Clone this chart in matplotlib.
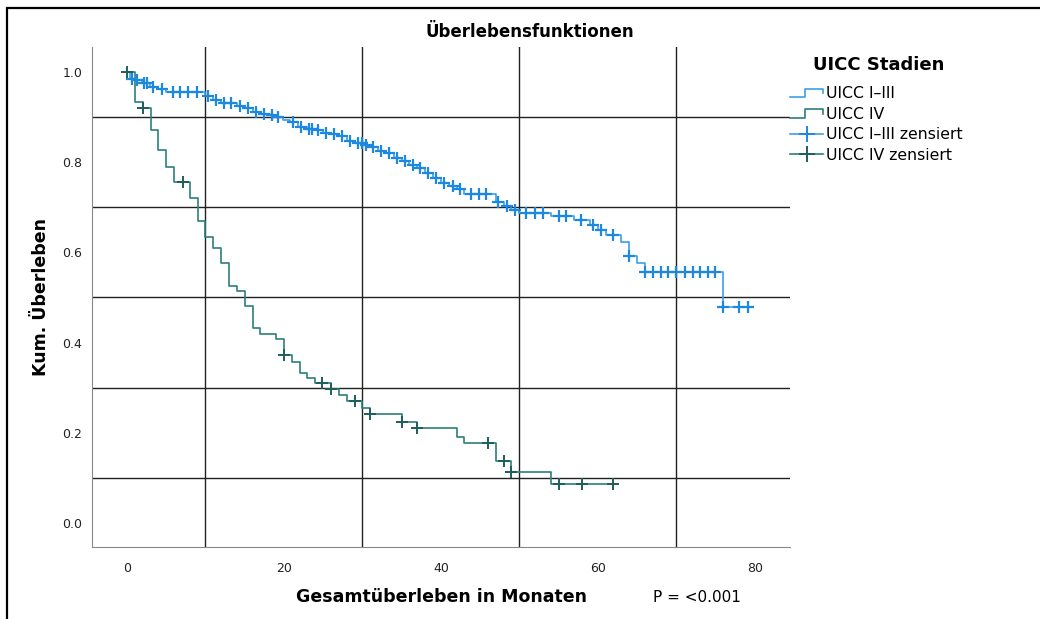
import numpy as np
import matplotlib.pyplot as plt
from matplotlib.lines import Line2D
from matplotlib.patches import Rectangle
from matplotlib.legend_handler import HandlerBase

# UICC I-III: event times (months) and survival after each step
t13 = [0, 0.4, 1.0, 1.9, 2.9, 4.0, 5.0, 9.9, 11.0, 12.0, 14.0, 15.0, 16.0, 17.0,
       18.2, 18.9, 19.9, 20.8, 21.8, 22.9, 24.0, 25.0, 26.0, 27.0, 28.0, 29.0, 30.0, 31.0,
       32.0, 33.0, 34.0, 35.0, 36.0, 37.0, 38.0, 39.0, 40.0, 41.0, 42.0, 43.0, 47.0, 48.0,
       49.0, 50.0, 54.0, 57.0, 59.0, 60.0, 61.0, 63.0, 64.0, 65.0, 66.0, 76.0]
s13 = [1.0, 0.984, 0.981, 0.975, 0.967, 0.962, 0.955, 0.947, 0.938, 0.931, 0.925, 0.919, 0.912, 0.907,
       0.904, 0.899, 0.894, 0.889, 0.877, 0.873, 0.870, 0.864, 0.862, 0.857, 0.846, 0.843, 0.838, 0.833,
       0.824, 0.820, 0.809, 0.803, 0.794, 0.786, 0.775, 0.764, 0.753, 0.747, 0.740, 0.729, 0.712, 0.703,
       0.694, 0.687, 0.681, 0.672, 0.661, 0.650, 0.639, 0.622, 0.592, 0.576, 0.557, 0.478]
c13 = [0.6, 1.3, 2.2, 2.6, 3.3, 4.4, 5.9, 6.8, 7.8, 8.9, 10.3, 11.4, 12.4, 13.3, 14.4, 15.4,
       16.4, 17.4, 18.5, 19.3, 21.2, 22.2, 23.2, 23.6, 24.4, 25.4, 26.4, 27.4, 28.4, 29.4, 29.9,
       30.4, 31.4, 32.4, 33.4, 34.4, 35.4, 36.4, 37.4, 38.4, 39.4, 40.4, 41.5, 42.4, 43.8, 44.8,
       45.8, 47.3, 48.4, 49.5, 50.9, 52.0, 53.0, 55.1, 56.0, 57.9, 59.4, 60.4, 62.0, 64.0,
       66.0, 67.0, 68.0, 69.0, 70.0, 71.1, 72.1, 73.0, 74.0, 75.0, 76.0, 78.0, 79.1]
end13 = 79.1

# UICC IV
t4 = [0, 1.0, 2.0, 3.0, 4.0, 5.0, 6.0, 8.0, 9.0, 10.0, 11.0, 12.0, 13.0, 14.0,
      15.0, 16.0, 17.0, 19.0, 20.0, 21.0, 22.0, 23.0, 24.0, 26.0, 27.0, 28.0, 30.0, 31.0,
      35.0, 37.0, 42.0, 43.0, 47.0, 49.0, 54.0]
s4 = [1.0, 0.933, 0.919, 0.871, 0.827, 0.790, 0.755, 0.720, 0.670, 0.634, 0.609, 0.576, 0.526, 0.515,
      0.480, 0.432, 0.419, 0.407, 0.372, 0.358, 0.333, 0.321, 0.310, 0.297, 0.284, 0.270, 0.256, 0.241,
      0.225, 0.210, 0.191, 0.177, 0.138, 0.114, 0.086]
c4 = [0, 2.1, 7.1, 20.0, 24.9, 26.0, 29.0, 31.0, 35.0, 37.0, 46.0, 48.0, 49.0, 55.0, 58.0, 62.0]
end4 = 62.0

col13_line = '#3d9fe6'
col13_mark = '#1c88e0'
col4_line = '#2e7f7c'
col4_mark = '#1e5e5c'


def censor_y(t, s, c):
    idx = np.searchsorted(t, c, side='right') - 1
    return np.array(s)[idx]


class StepHandler(HandlerBase):
    def create_artists(self, legend, orig_handle, xdescent, ydescent, width, height, fontsize, trans):
        x0 = -xdescent
        y0 = -ydescent
        xs = [x0, x0 + 0.45 * width, x0 + 0.45 * width, x0 + width, x0 + width]
        ys = [y0 + 0.1 * height, y0 + 0.1 * height, y0 + 0.85 * height, y0 + 0.85 * height, y0 + 0.45 * height]
        line = Line2D(xs, ys, color=orig_handle.get_color(), lw=orig_handle.get_linewidth())
        line.set_transform(trans)
        return [line]


fig = plt.figure(figsize=(10.4, 6.19), dpi=100)
ax = fig.add_axes([92 / 1040, 1 - 547 / 619, (790 - 92) / 1040, (547 - 47) / 619])

l13, = ax.step(list(t13) + [end13], list(s13) + [s13[-1]], where='post', color=col13_line, lw=1.2)
l4, = ax.step(list(t4) + [end4], list(s4) + [s4[-1]], where='post', color=col4_line, lw=1.2)
ax.plot(c13, censor_y(t13, s13, c13), ls='none', marker='+', ms=8.5, mew=1.6, color=col13_mark)
ax.plot(c4, censor_y(t4, s4, c4), ls='none', marker='+', ms=8.5, mew=1.4, color=col4_mark)

ax.set_xlim(-4.46, 84.5)
ax.set_ylim(-0.053, 1.055)
ax.set_xticks([0, 20, 40, 60, 80])
ax.set_yticks([0.0, 0.2, 0.4, 0.6, 0.8, 1.0])
ax.set_yticklabels(['0.0', '0.2', '0.4', '0.6', '0.8', '1.0'])
ax.set_xticks([10, 30, 50, 70], minor=True)
ax.set_yticks([0.1, 0.3, 0.5, 0.7, 0.9], minor=True)
ax.grid(which='minor', color='#222222', lw=1.0)
ax.set_axisbelow(True)
ax.tick_params(which='both', length=0, labelsize=9, colors='#222222')
ax.tick_params(axis='x', pad=11)
ax.tick_params(axis='y', pad=7)
for side in ['top', 'right']:
    ax.spines[side].set_visible(False)
for side in ['left', 'bottom']:
    ax.spines[side].set_color('#888888')

ax.set_xlabel('Gesamtüberleben in Monaten', fontsize=12.5, fontweight='bold', labelpad=9)
ax.set_ylabel('Kum. Überleben', fontsize=12.5, fontweight='bold', labelpad=9)
fig.text(530 / 1040, 1 - 32 / 619, 'Überlebensfunktionen', ha='center', va='center',
         fontsize=12, fontweight='bold')
fig.text(697 / 1040, 1 - 597 / 619, 'P = <0.001', ha='center', va='center', fontsize=11)

# legend title placed separately so the gap to the entries matches
fig.text(879 / 1040, 1 - 65 / 619, 'UICC Stadien', ha='center', va='center',
         fontsize=13, fontweight='bold')
h13c = Line2D([], [], color=col13_line, marker='+', ms=12, mew=1.4, mec=col13_mark, lw=1.2)
h4c = Line2D([], [], color=col4_line, marker='+', ms=12, mew=1.4, mec=col4_mark, lw=1.2)
leg = fig.legend([l13, l4, h13c, h4c],
                 ['UICC I–III', 'UICC IV', 'UICC I–III zensiert', 'UICC IV zensiert'],
                 loc='upper left', bbox_to_anchor=(787 / 1040, 1 - 83 / 619),
                 frameon=False, fontsize=11.3,
                 handlelength=2.1, handletextpad=0.2, labelspacing=0.35,
                 borderpad=0.2, borderaxespad=0,
                 handler_map={l13: StepHandler(), l4: StepHandler()})

fig.add_artist(Rectangle((7 / 1040, -0.1), 1.2, 1.1 - 8 / 619, transform=fig.transFigure,
                         fill=False, edgecolor='black', lw=1.6))

fig.savefig('out.png', dpi=100)
